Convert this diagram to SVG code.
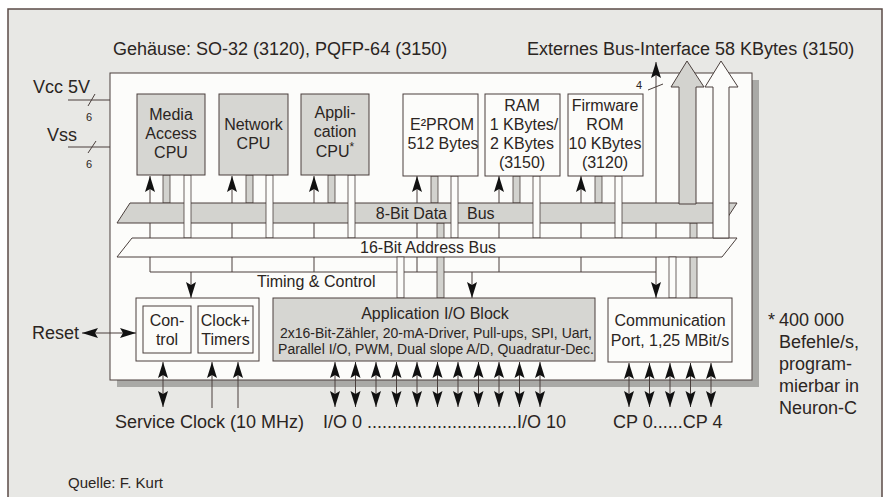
<svg xmlns="http://www.w3.org/2000/svg" width="890" height="497" viewBox="0 0 890 497">
<defs>
<style>
text{font-family:"Liberation Sans",Arial,sans-serif;fill:#2b2522}
.t16{font-size:16px}
.t18{font-size:18px}
.t14{font-size:14px}
.c{text-anchor:middle}
.ln{stroke:#4a3f3c;stroke-width:1;fill:none}
.box{fill:#fcfcfa;stroke:#4a3f3c;stroke-width:1}
.gbox{fill:#d6d6d2;stroke:#4a3f3c;stroke-width:1}
.gbar{fill:#d2d2ce;stroke:#4a3f3c;stroke-width:0.8}
.wbar{fill:#fcfcfa;stroke:#4a3f3c;stroke-width:0.8}
.ar{stroke:#4a3f3c;stroke-width:1;fill:none;marker-end:url(#ah)}
.da{stroke:#4a3f3c;stroke-width:1;fill:none;marker-end:url(#ah);marker-start:url(#ah)}
</style>
<marker id="ah" viewBox="-17 -6 18 12" refX="0" refY="0" markerWidth="18" markerHeight="12" markerUnits="userSpaceOnUse" orient="auto-start-reverse">
<path d="M0,0 L-16,-5 L-13,0 L-16,5 Z" fill="#111"/>
</marker>
</defs>

<g id="frame">
<rect x="8" y="9" width="874" height="500" fill="#e8e8e5" stroke="#5b4b47" stroke-width="1.5"/>
<rect x="117" y="80" width="642" height="307" fill="#a9a9a6"/>
<rect x="110" y="73" width="642" height="307" fill="#fcfcfa" stroke="#4a3f3c" stroke-width="1"/>
</g>

<g id="connectors">
<path class="ar" d="M150,272 V176"/>
<path class="ar" d="M232,272 V176"/>
<path class="ar" d="M314,272 V176"/>
<path class="ar" d="M417,272 V176"/>
<path class="ar" d="M499,272 V176"/>
<path class="ar" d="M581,272 V176"/>
<path class="ln" d="M150,272 H656"/>
<path class="ar" d="M191,272 V298"/>
<path class="ar" d="M472,272 V298"/>
<path class="da" d="M656,298 V62"/>
<path class="ln" d="M648,90 L663,84"/>
<rect class="gbar" x="163" y="175" width="7" height="28"/>
<rect class="gbar" x="246" y="175" width="7" height="28"/>
<rect class="gbar" x="328" y="175" width="7" height="28"/>
<rect class="gbar" x="431" y="176" width="7" height="27"/>
<rect class="gbar" x="513" y="176" width="7" height="27"/>
<rect class="gbar" x="595" y="176" width="7" height="27"/>
<rect class="gbar" x="437" y="223" width="7" height="75"/>
<rect class="gbar" x="690" y="223" width="7" height="75"/>
</g>

<g id="data-bus">
<polygon points="130,203 737,203 724,223 117,223" fill="#d3d3cf" stroke="#4a3f3c" stroke-width="1"/>
<text class="t16" x="447" y="219" text-anchor="end">8-Bit Data</text>
<text class="t16" x="467" y="219">Bus</text>
</g>

<g id="address-bars">
<rect class="wbar" x="184" y="175" width="7" height="63"/>
<rect class="wbar" x="266" y="175" width="7" height="63"/>
<rect class="wbar" x="348" y="175" width="7" height="63"/>
<rect class="wbar" x="451" y="176" width="7" height="62"/>
<rect class="wbar" x="533" y="176" width="7" height="62"/>
<rect class="wbar" x="615" y="176" width="7" height="62"/>
</g>

<g id="address-bus">
<polygon points="132,238 737,238 722,257 117,257" fill="#fcfcfa" stroke="#4a3f3c" stroke-width="1"/>
<text class="t16" x="360" y="253">16-Bit Address Bus</text>
</g>

<g id="lower-bars">
<rect class="wbar" x="397" y="257" width="7" height="41"/>
<rect class="wbar" x="669" y="257" width="7" height="41"/>
</g>

<g id="external-bus">
<polygon points="679,204 679,87 671,87 687,61 704,87 696,87 696,204" fill="#d3d3cf" stroke="#4a3f3c" stroke-width="1"/>
<polygon points="713,238 713,87 705,87 721,61 738,87 729,87 729,238" fill="#fcfcfa" stroke="#4a3f3c" stroke-width="1"/>
</g>

<g id="media-cpu">
<rect class="gbox" x="137" y="94" width="68" height="81"/>
<text class="t16 c" x="171" y="120">Media</text>
<text class="t16 c" x="171" y="139">Access</text>
<text class="t16 c" x="171" y="158">CPU</text>
</g>
<g id="network-cpu">
<rect class="gbox" x="219" y="94" width="69" height="81"/>
<text class="t16 c" x="253.5" y="130">Network</text>
<text class="t16 c" x="253.5" y="149">CPU</text>
</g>
<g id="application-cpu">
<rect class="gbox" x="301" y="94" width="68" height="81"/>
<text class="t16 c" x="335" y="118">Appli-</text>
<text class="t16 c" x="335" y="137">cation</text>
<text class="t16 c" x="335" y="157">CPU<tspan font-size="12" dy="-6">*</tspan></text>
</g>
<g id="eeprom">
<rect class="box" x="403" y="94" width="75" height="82"/>
<text class="t16 c" x="442" y="130">E²PROM</text>
<text class="t16 c" x="443" y="149">512 Bytes</text>
</g>
<g id="ram">
<rect class="box" x="485" y="94" width="75" height="82"/>
<text class="t16 c" x="522" y="111">RAM</text>
<text class="t16 c" x="524" y="130">1 KBytes/</text>
<text class="t16 c" x="522" y="149">2 KBytes</text>
<text class="t16 c" x="522" y="168">(3150)</text>
</g>
<g id="firmware-rom">
<rect class="box" x="568" y="94" width="75" height="82"/>
<text class="t16 c" x="605" y="111">Firmware</text>
<text class="t16 c" x="605" y="130">ROM</text>
<text class="t16 c" x="605" y="149">10 KBytes</text>
<text class="t16 c" x="605" y="168">(3120)</text>
</g>

<g id="control-block">
<rect class="box" x="136" y="298" width="123" height="63"/>
<rect class="box" x="143" y="306" width="48" height="47"/>
<rect class="box" x="198" y="306" width="55" height="47"/>
<text class="t16 c" x="167" y="326">Con-</text>
<text class="t16 c" x="167" y="345">trol</text>
<text class="t16 c" x="225.5" y="326">Clock+</text>
<text class="t16 c" x="225.5" y="345">Timers</text>
</g>

<g id="io-block">
<rect class="gbox" x="273" y="298" width="322" height="63"/>
<text class="t16 c" x="435" y="319">Application I/O Block</text>
<text class="t14 c" x="436" y="338">2x16-Bit-Zähler, 20-mA-Driver, Pull-ups, SPI, Uart,</text>
<text class="t14 c" x="436" y="354">Parallel I/O, PWM, Dual slope A/D, Quadratur-Dec.</text>
</g>

<g id="comm-port">
<rect class="box" x="608" y="298" width="124" height="64"/>
<text class="t16 c" x="670" y="326">Communication</text>
<text class="t16 c" x="670" y="346">Port, 1,25 MBit/s</text>
</g>

<g id="pins">
<path class="ln" d="M68,100 H110 M88,106 L95,94"/>
<path class="ln" d="M68,147 H110 M88,153 L96,141"/>
<path class="da" d="M82,333 H136"/>
<path class="da" d="M163,362 V407"/>
<path class="ar" d="M212,408 V362"/>
<path class="ar" d="M238,408 V362"/>
<path class="da" d="M335,362 V407"/>
<path class="da" d="M355.5,362 V407"/>
<path class="da" d="M376,362 V407"/>
<path class="da" d="M396.5,362 V407"/>
<path class="da" d="M417,362 V407"/>
<path class="da" d="M437.5,362 V407"/>
<path class="da" d="M458,362 V407"/>
<path class="da" d="M478.5,362 V407"/>
<path class="da" d="M499,362 V407"/>
<path class="da" d="M519.5,362 V407"/>
<path class="da" d="M540,362 V407"/>
<path class="da" d="M629,363 V407"/>
<path class="da" d="M649.5,363 V407"/>
<path class="da" d="M670,363 V407"/>
<path class="da" d="M690.5,363 V407"/>
<path class="da" d="M711,363 V407"/>
</g>

<g id="labels">
<text class="t18" x="113" y="55">Gehäuse: SO-32 (3120), PQFP-64 (3150)</text>
<text class="t18" x="527" y="55">Externes Bus-Interface 58 KBytes (3150)</text>
<text class="t18" x="33" y="93">Vcc 5V</text>
<text x="86" y="121" font-size="11">6</text>
<text class="t18" x="47" y="141">Vss</text>
<text x="86" y="168" font-size="11">6</text>
<text x="636" y="89" font-size="11">4</text>
<text class="t16" x="257" y="287">Timing &amp; Control</text>
<text class="t18" x="32" y="339">Reset</text>
<text class="t18" x="115" y="428">Service Clock (10 MHz)</text>
<text class="t18" x="323" y="428">I/O 0 ..............................I/O 10</text>
<text class="t18" x="613" y="428">CP 0......CP 4</text>
<text class="t18" x="768" y="326">*</text>
<text class="t18" x="779" y="326">400 000</text>
<text class="t18" x="779" y="348">Befehle/s,</text>
<text class="t18" x="779" y="370">program-</text>
<text class="t18" x="779" y="392">mierbar in</text>
<text class="t18" x="779" y="414">Neuron-C</text>
<text x="68" y="488" font-size="15">Quelle: F. Kurt</text>
</g>
</svg>
